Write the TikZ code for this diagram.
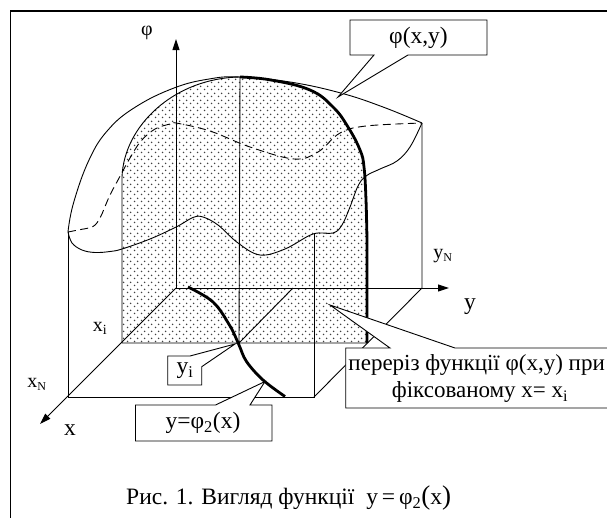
\documentclass[tikz,border=0pt]{standalone}
\usepackage{fontspec}
\setmainfont{Liberation Serif}
\usetikzlibrary{arrows.meta,patterns.meta}

\tikzdeclarepattern{
  name=hexdots, type=uncolored,
  bounding box={(0pt,0pt) and (7pt,7pt)},
  tile size={(7pt,7pt)},
  code={
    \pgfpathcircle{\pgfpoint{1.75pt}{1.75pt}}{0.9pt}
    \pgfpathcircle{\pgfpoint{5.25pt}{5.25pt}}{0.9pt}
    \pgfusepath{fill}
  }
}

\tikzset{
  ln/.style={line width=0.9pt},
  thk/.style={line width=2.8pt, line join=round},
  dsh/.style={line width=0.9pt, dash pattern=on 8pt off 4.5pt},
  axis/.style={line width=1pt, -{Triangle[length=11pt,width=7pt]}},
  callout/.style={draw, line width=0.9pt, fill=white, line join=miter},
  lbl/.style={font=\fontsize{20}{24}\selectfont, inner sep=0pt},
  txt/.style={font=\fontsize{23.5}{28}\selectfont, inner sep=0pt},
  bigtxt/.style={font=\fontsize{23}{28}\selectfont, inner sep=0pt},
}

\begin{document}
\begin{tikzpicture}[x=1pt,y=-1pt]
\useasboundingbox (0,0) rectangle (607,517);

% frame
\draw[line width=1.8pt] (10.5,530) -- (10.5,11) -- (620,11);

% key points
\coordinate (O) at (176,288);
\coordinate (phitip) at (176,39);
\coordinate (ytip) at (449,288);
\coordinate (xtip) at (40,424);
\coordinate (xiP) at (122,343);
\coordinate (xNP) at (68,397);
\coordinate (yNP) at (422,288);
\coordinate (yiP) at (293,288);
\coordinate (ciyi) at (239,343);
\coordinate (NN) at (314,397);
\coordinate (NNtop) at (314,233);
\coordinate (A) at (68,232);
\coordinate (B) at (422,123);
\coordinate (T) at (240,77);
\coordinate (secR) at (367,343);
\coordinate (secL) at (122,177);

% shaded cross-section
\fill[pattern=hexdots, pattern color=black!75]
  (xiP) -- (secL) .. controls (124,125) and (175,78) .. (T)
  -- plot[smooth, tension=0.7] coordinates {(240,77) (271,80) (310,90) (333,107) (348,127) (360,150) (364,167) (366,200) (367,240)}
  -- (secR) -- cycle;
\draw[ln] (secR) -- (xiP) -- (secL) .. controls (124,125) and (175,78) .. (T);

% surface outline (solid)
\draw[ln] plot[smooth, tension=0.7] coordinates {(68,232) (73.5,203) (89,160) (108,130) (135.5,107) (174,88) (209,79) (240,77) (290,82) (340.7,93) (383,107) (422,123)};
% hidden edges (dashed)
\draw[dsh] plot[smooth, tension=0.6] coordinates {(68,232) (78,230) (93,226.5) (100,218) (104,209) (110,195) (118,180) (130,158) (141,141) (155,129) (170,124) (176,123) (210,131) (250,147) (294,159) (318,152) (340,133) (366,126) (422,123)};
% front wavy edge and right edge
\draw[ln] plot[smooth, tension=0.6] coordinates {(68,232) (72,243) (82,250) (95,252.5) (110,251.5) (122,249) (150,239) (176.7,226.7) (193,217.5) (203,217) (218,225) (238,243) (260,255) (285,249) (313,234) (333,233) (342,225) (350,207) (358,186) (366,176) (380,169) (397,161) (410,147) (422,123)};

% box edges
\draw[ln] (A) -- (xNP) -- (NN) -- (NNtop);
\draw[ln] (NN) -- (yNP) -- (B);
\draw[ln] (T) -- (ciyi);
\draw[ln] (yiP) -- (ciyi);

% thick section edge
\draw[thk] plot[smooth, tension=0.7] coordinates {(240,77) (271,80) (310,90) (333,107) (348,127) (360,150) (364,167) (366,200) (367,240)} -- (secR);

% axes
\draw[axis] (O) -- (phitip);
\draw[axis] (O) -- (ytip);
\draw[axis] (O) -- (xtip);

% y = phi2(x) curve
\draw[thk, line cap=butt] plot[smooth, tension=0.6] coordinates {(188,287) (213,302) (230,326) (239,345) (246.5,361.5) (263,380) (285,396.5)};

% callouts
\draw[callout] (350,20) -- (487,20) -- (487,55) -- (408,55) -- (338,97) -- (374,55) -- (350,55) -- cycle;
\draw[callout] (167.7,356) -- (190,356) -- (235,344) -- (201.7,366.7) -- (201.7,385) -- (167.7,385) -- cycle;
\draw[callout] (135.5,405) -- (215.5,405) -- (265,381.5) -- (250,405) -- (272,405) -- (272,441) -- (135.5,441) -- cycle;
\draw[callout] (345.7,348) -- (390,348) -- (330,305) -- (455,348) -- (625,348) -- (625,408) -- (345.7,408) -- cycle;

% texts
\node[txt] (tphi) at (418.5,37.5) {φ(x,y)};
\node[txt] (tyi) at (185,370.5) {y\textsubscript{i}};
\node[txt] (tphi2) at (203,423) {y=φ\textsubscript{2}(x)};
\node[bigtxt, anchor=east] (tsec1) at (605,365) {переріз функції φ(x,y) при};
\node[bigtxt] (tsec2) at (480,392) {фіксованому x= x\textsubscript{i}};

\node[lbl] (lphi) at (147,33) {φ};
\node[lbl] (lxi) at (100,328) {x\textsubscript{i}};
\node[lbl] (lxN) at (37,384) {x\textsubscript{\fontsize{12}{12}\selectfont N}};
\node[lbl] (lyN) at (443,256) {y\textsubscript{\fontsize{12}{12}\selectfont N}};
\node[txt] (ly) at (470,307) {y};
\node[txt] (lx) at (70,430) {x};

\node[txt, anchor=west] (cap) at (126,498) {Рис. 1. Вигляд функції\ \ y\,=\,φ\textsubscript{2}{\fontsize{27}{27}\selectfont(}x{\fontsize{27}{27}\selectfont)}};
\end{tikzpicture}
\end{document}
